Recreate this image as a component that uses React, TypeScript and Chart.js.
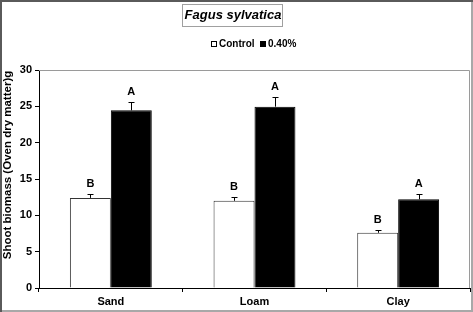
import React, { useEffect, useRef } from "react";
import { Chart, registerables } from "chart.js";

Chart.register(...registerables);

const categories = ["Sand", "Loam", "Clay"];
const controlValues = [12.4, 12.0, 7.6];
const controlErrors = [0.55, 0.55, 0.4];
const treatedValues = [24.45, 24.95, 12.2];
const treatedErrors = [1.1, 1.35, 0.7];
const controlLetters = ["B", "B", "B"];
const treatedLetters = ["A", "A", "A"];
const seriesNames = ["Control", "0.40%"];
const chartTitle = "Fagus sylvatica";
const yTitle = "Shoot biomass (Oven dry matter)g";

const FONT = "'Liberation Sans', Arial, sans-serif";

const decorPlugin = {
  id: "decor",
  beforeDraw(chart: any) {
    const { ctx, width, height } = chart;
    ctx.save();
    ctx.fillStyle = "#ffffff";
    ctx.fillRect(0, 0, width, height);
    ctx.restore();
  },
  afterDatasetsDraw(chart: any) {
    const { ctx } = chart;
    const y = chart.scales.y;
    const errs = [controlErrors, treatedErrors];
    const letters = [controlLetters, treatedLetters];
    ctx.save();
    ctx.strokeStyle = "#000";
    ctx.lineWidth = 1;
    ctx.fillStyle = "#000";
    ctx.font = `bold 11px ${FONT}`;
    ctx.textAlign = "center";
    ctx.textBaseline = "alphabetic";
    chart.data.datasets.forEach((ds: any, di: number) => {
      const meta = chart.getDatasetMeta(di);
      meta.data.forEach((bar: any, i: number) => {
        const v = ds.data[i];
        const top = y.getPixelForValue(v + errs[di][i]);
        const base = y.getPixelForValue(v);
        const x = Math.round(bar.x) + 0.5;
        ctx.beginPath();
        ctx.moveTo(x, base);
        ctx.lineTo(x, Math.round(top) + 0.5);
        ctx.moveTo(x - 3, Math.round(top) + 0.5);
        ctx.lineTo(x + 3, Math.round(top) + 0.5);
        ctx.stroke();
        ctx.fillText(letters[di][i], bar.x, top - 7);
      });
    });
    ctx.restore();
  },
  afterDraw(chart: any) {
    const { ctx, width, height, chartArea } = chart;
    ctx.save();
    // plot area border (top/right)
    ctx.strokeStyle = "#9a9a9a";
    ctx.lineWidth = 1;
    ctx.beginPath();
    ctx.moveTo(chartArea.left, chartArea.top + 0.5);
    ctx.lineTo(chartArea.right - 0.5, chartArea.top + 0.5);
    ctx.lineTo(chartArea.right - 0.5, chartArea.bottom);
    ctx.stroke();

    // y axis title
    ctx.save();
    ctx.translate(8, 165);
    ctx.rotate(-Math.PI / 2);
    ctx.font = `bold 11.5px ${FONT}`;
    ctx.textAlign = "center";
    ctx.textBaseline = "middle";
    ctx.fillStyle = "#000";
    ctx.fillText(yTitle, 0, 0);
    ctx.restore();

    // title box
    ctx.font = `bold italic 13px ${FONT}`;
    ctx.textAlign = "center";
    ctx.textBaseline = "middle";
    ctx.fillStyle = "#000";
    const cx = 233;
    ctx.fillText(chartTitle, cx, 15);
    ctx.strokeStyle = "#a0a0a0";
    ctx.strokeRect(182.5, 4.5, 100, 22);

    // legend
    ctx.font = `bold 10px ${FONT}`;
    ctx.textAlign = "left";
    const ly = 44;
    ctx.fillStyle = "#fff";
    ctx.strokeStyle = "#000";
    ctx.fillRect(211, ly - 3, 6, 6);
    ctx.strokeRect(211.5, ly - 2.5, 5, 5);
    ctx.fillStyle = "#000";
    ctx.fillText(seriesNames[0], 219, ly + 0.5);
    ctx.fillRect(260, ly - 3, 6, 6);
    ctx.fillText(seriesNames[1], 268, ly + 0.5);

    // outer frame
    ctx.lineWidth = 2;
    ctx.strokeStyle = "#a8a8a8";
    ctx.beginPath();
    ctx.moveTo(width - 1, 0);
    ctx.lineTo(width - 1, height - 1);
    ctx.lineTo(0, height - 1);
    ctx.stroke();
    ctx.strokeStyle = "#5a5a5a";
    ctx.beginPath();
    ctx.moveTo(1, height);
    ctx.lineTo(1, 1);
    ctx.lineTo(width, 1);
    ctx.stroke();
    ctx.restore();
  },
};

export default function App() {
  const ref = useRef<HTMLCanvasElement | null>(null);
  useEffect(() => {
    document.body.style.margin = "0";
    const canvas = ref.current!;
    const chart = new Chart(canvas, {
      type: "bar",
      data: {
        labels: categories,
        datasets: [
          {
            label: seriesNames[0],
            data: controlValues,
            backgroundColor: "#ffffff",
            borderColor: "#333333",
            borderWidth: 1,
            categoryPercentage: 0.57,
            barPercentage: 1,
          },
          {
            label: seriesNames[1],
            data: treatedValues,
            backgroundColor: "#000000",
            borderColor: "#000000",
            borderWidth: 1,
            categoryPercentage: 0.57,
            barPercentage: 1,
          },
        ],
      },
      options: {
        responsive: false,
        animation: false,
        devicePixelRatio: 1,
        layout: { padding: { top: 70, left: 0, right: 3, bottom: 0 } },
        plugins: {
          legend: { display: false },
          title: { display: false },
          tooltip: { enabled: false },
        },
        scales: {
          x: {
            afterFit: (s: any) => {
              s.height = 24;
            },
            grid: {
              offset: true,
              drawOnChartArea: false,
              drawTicks: true,
              tickLength: 4,
              color: "#000",
            },
            border: { display: true, color: "#000", width: 1 },
            ticks: {
              color: "#000",
              padding: 3,
              font: { family: FONT, size: 11, weight: "bold" },
            },
          },
          y: {
            min: 0,
            max: 30,
            afterFit: (s: any) => {
              s.width = 39;
            },
            grid: {
              drawOnChartArea: false,
              drawTicks: true,
              tickLength: 4,
              color: "#000",
            },
            border: { display: true, color: "#000", width: 1 },
            ticks: {
              stepSize: 5,
              color: "#000",
              padding: 3,
              font: { family: FONT, size: 11, weight: "bold" },
            },
          },
        },
      },
      plugins: [decorPlugin],
    });
    return () => chart.destroy();
  }, []);
  return (
    <div style={{ width: 473, height: 312 }}>
      <canvas ref={ref} width={473} height={312} style={{ display: "block" }} />
    </div>
  );
}
